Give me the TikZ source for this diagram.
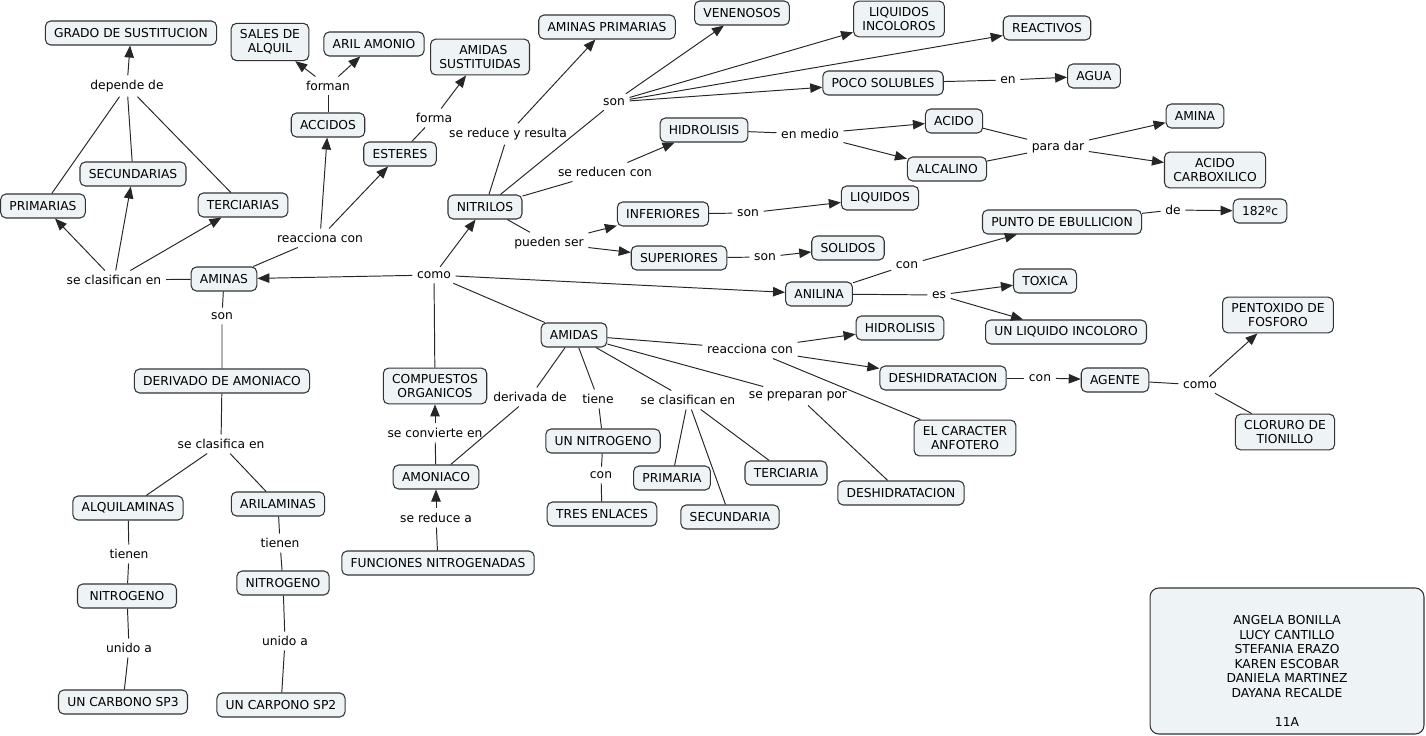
\documentclass[tikz,border=0pt]{standalone}
\usepackage{fontspec}
\setmainfont{DejaVu Sans}
\usetikzlibrary{arrows.meta}
\definecolor{boxfill}{HTML}{EEF3F6}

\begin{document}
\begin{tikzpicture}[x=0.02cm, y=-0.02cm,
    concept/.style={draw=black!80, fill=boxfill, rounded corners=3pt, line width=0.6pt,
        inner xsep=5pt, inner ysep=3.6pt, minimum height=0.48cm, align=center,
        font=\fontsize{7}{7.9}\selectfont},
    phrase/.style={inner sep=2.5pt, font=\fontsize{7}{7.9}\selectfont},
    conn/.style={line width=0.55pt, black!85},
    arr/.style={conn, -{Triangle[length=0.24cm, width=0.19cm]}}]
    \useasboundingbox (0,0) rectangle (1426,736);

    % Concepts
    \node[concept] (grado) at (131,33) {GRADO DE SUSTITUCION};
    \node[concept] (sales) at (270,42) {SALES DE\\ALQUIL};
    \node[concept] (aril) at (374,44) {ARIL AMONIO};
    \node[concept] (amsust) at (480,57) {\hspace{1ex}AMIDAS\\SUSTITUIDAS};
    \node[concept] (accidos) at (328,125) {ACCIDOS};
    \node[concept] (esteres) at (400,154) {ESTERES};
    \node[concept] (secund) at (133,174) {SECUNDARIAS};
    \node[concept] (prim) at (43,206) {PRIMARIAS};
    \node[concept] (terc) at (243,205) {TERCIARIAS};
    \node[concept] (aminas) at (224,279) {AMINAS};
    \node[concept] (nitrilos) at (485,207) {NITRILOS};
    \node[concept] (amprim) at (607,27) {AMINAS PRIMARIAS};
    \node[concept] (venen) at (742,13) {VENENOSOS};
    \node[concept] (liqinc) at (899,19) {LIQUIDOS\\INCOLOROS};
    \node[concept] (react) at (1047,28) {REACTIVOS};
    \node[concept] (poco) at (883,83) {POCO SOLUBLES};
    \node[concept] (agua) at (1094,76) {AGUA};
    \node[concept] (hidro) at (704,130) {HIDROLISIS};
    \node[concept] (acido) at (954,121) {ACIDO};
    \node[concept] (alcal) at (947,169) {ALCALINO};
    \node[concept] (amina) at (1195,116) {AMINA};
    \node[concept] (acarb) at (1215,170) {ACIDO\\CARBOXILICO};
    \node[concept] (liquidos) at (880,198) {LIQUIDOS};
    \node[concept] (infer) at (663,214) {INFERIORES};
    \node[concept] (super) at (679,258) {SUPERIORES};
    \node[concept] (solidos) at (848,248) {SOLIDOS};
    \node[concept] (punto) at (1062,222) {PUNTO DE EBULLICION};
    \node[concept] (grados) at (1260,211) {182ºc};
    \node[concept] (anilina) at (819,294) {ANILINA};
    \node[concept] (toxica) at (1045,281) {TOXICA};
    \node[concept] (liqinc2) at (1066,332) {UN LIQUIDO INCOLORO};
    \node[concept] (hidro2) at (900,328) {HIDROLISIS};
    \node[concept] (deshid) at (943,378) {DESHIDRATACION};
    \node[concept] (agente) at (1115,380) {AGENTE};
    \node[concept] (pento) at (1278,315) {PENTOXIDO DE\\FOSFORO};
    \node[concept] (cloruro) at (1285,432) {CLORURO DE\\TIONILLO};
    \node[concept] (anfot) at (965,438) {EL CARACTER\\ANFOTERO};
    \node[concept] (amidas) at (574,335) {AMIDAS};
    \node[concept] (unnit) at (603,441) {UN NITROGENO};
    \node[concept] (tres) at (602,514) {TRES ENLACES};
    \node[concept] (primA) at (672,478) {PRIMARIA};
    \node[concept] (secA) at (730,517) {SECUNDARIA};
    \node[concept] (tercA) at (786,473) {TERCIARIA};
    \node[concept] (deshid2) at (901,493) {DESHIDRATACION};
    \node[concept] (compu) at (435,386) {COMPUESTOS\\ORGANICOS};
    \node[concept] (amon) at (436,477) {AMONIACO};
    \node[concept] (func) at (438,563) {FUNCIONES NITROGENADAS};
    \node[concept] (deriv) at (222,381) {DERIVADO DE AMONIACO};
    \node[concept] (alqui) at (128,508) {ALQUILAMINAS};
    \node[concept] (arila) at (278,504) {ARILAMINAS};
    \node[concept, minimum width=1.98cm] (nitro1) at (127,596) {NITROGENO};
    \node[concept] (nitro2) at (283,583) {NITROGENO};
    \node[concept] (sp3) at (123,702) {UN CARBONO SP3};
    \node[concept] (sp2) at (281,705) {UN CARPONO SP2};

    % Linking phrases
    \node[phrase] (ldep) at (127,86) {depende de};
    \node[phrase] (lform) at (328,86) {forman};
    \node[phrase] (lforma) at (434,118) {forma};
    \node[phrase] (lreduce) at (508,134) {se reduce y resulta};
    \node[phrase] (lson) at (614,102) {son};
    \node[phrase] (lredcon) at (605,172) {se reducen con};
    \node[phrase] (lmedio) at (810,134) {en medio};
    \node[phrase] (len) at (1008,80) {en};
    \node[phrase] (lpara) at (1058,147) {para dar};
    \node[phrase] (lsonI) at (748,213) {son};
    \node[phrase] (lpueden) at (549,243) {pueden ser};
    \node[phrase] (lsonS) at (765,257) {son};
    \node[phrase] (lde) at (1173,210) {de};
    \node[phrase] (lcon) at (907,265) {con};
    \node[phrase] (les) at (939,295) {es};
    \node[phrase] (lcomo) at (434,275) {como};
    \node[phrase] (lreacc) at (320,238) {reacciona con};
    \node[phrase] (lclas) at (114,280) {se clasifican en};
    \node[phrase] (lsonA) at (222,316) {son};
    \node[phrase] (lclasD) at (221,444) {se clasifica en};
    \node[phrase] (ltien1) at (129,554) {tienen};
    \node[phrase] (ltien2) at (280,543) {tienen};
    \node[phrase] (lunido1) at (129,648) {unido a};
    \node[phrase] (lunido2) at (285,641) {unido a};
    \node[phrase] (lconv) at (435,433) {se convierte en};
    \node[phrase] (lreda) at (436,518) {se reduce a};
    \node[phrase] (lderiv) at (530,397) {derivada de};
    \node[phrase] (ltiene) at (598,399) {tiene};
    \node[phrase] (lconN) at (601,475) {con};
    \node[phrase] (lclasA) at (688,400) {se clasifican en};
    \node[phrase] (lprep) at (798,396) {se preparan por};
    \node[phrase] (lreaccA) at (750,349) {reacciona con};
    \node[phrase] (lconD) at (1040,378) {con};
    \node[phrase] (lcomoA) at (1200,385) {como};

    % Team box
    \node[concept, minimum width=5.48cm, minimum height=2.92cm, rounded corners=5pt] (equipo) at (1287,661) {};
    \node[align=center, font=\fontsize{7}{8.3}\selectfont] (nombres) at (1287,671)
        {ANGELA BONILLA\\LUCY CANTILLO\\STEFANIA ERAZO\\KAREN ESCOBAR\\DANIELA MARTINEZ\\DAYANA RECALDE\\[8.3pt]11A};

    % Aminas
    \draw[conn] (aminas) -- (lclas);
    \foreach \t in {prim,secund,terc} \draw[arr] (lclas) -- (\t);
    \foreach \t in {prim,secund,terc} \draw[conn] (\t) -- (ldep);
    \draw[arr] (ldep) -- (grado);
    \draw[conn] (aminas) -- (lreacc);
    \draw[arr] (lreacc) -- (accidos);
    \draw[arr] (lreacc) -- (esteres);
    \draw[conn] (accidos) -- (lform);
    \draw[arr] (lform) -- (sales);
    \draw[arr] (lform) -- (aril);
    \draw[conn] (esteres) -- (lforma);
    \draw[arr] (lforma) -- (amsust);
    \draw[conn] (aminas) -- (lsonA) -- (deriv);
    \draw[conn] (deriv) -- (lclasD);
    \draw[conn] (lclasD) -- (alqui);
    \draw[conn] (lclasD) -- (arila);
    \draw[conn] (alqui) -- (ltien1) -- (nitro1) -- (lunido1) -- (sp3);
    \draw[conn] (arila) -- (ltien2) -- (nitro2) -- (lunido2) -- (sp2);

    % Compuestos organicos
    \draw[conn] (compu) -- (lcomo);
    \draw[arr] (lcomo) -- (aminas);
    \draw[arr] (lcomo) -- (nitrilos);
    \draw[arr] (lcomo) -- (anilina);
    \draw[conn] (lcomo) -- (amidas);
    \draw[conn] (amon) -- (lconv);
    \draw[arr] (lconv) -- (compu);
    \draw[conn] (func) -- (lreda);
    \draw[arr] (lreda) -- (amon);

    % Nitrilos
    \draw[conn] (nitrilos) -- (lreduce);
    \draw[arr] (lreduce) -- (amprim);
    \draw[conn] (nitrilos) -- (lson);
    \foreach \t in {venen,liqinc,react,poco} \draw[arr] (lson) -- (\t);
    \draw[conn] (poco) -- (len);
    \draw[arr] (len) -- (agua);
    \draw[conn] (nitrilos) -- (lredcon);
    \draw[arr] (lredcon) -- (hidro);
    \draw[conn] (hidro) -- (lmedio);
    \draw[arr] (lmedio) -- (acido);
    \draw[arr] (lmedio) -- (alcal);
    \draw[conn] (acido) -- (lpara);
    \draw[conn] (alcal) -- (lpara);
    \draw[arr] (lpara) -- (amina);
    \draw[arr] (lpara) -- (acarb);
    \draw[conn] (nitrilos) -- (lpueden);
    \draw[arr] (lpueden) -- (infer);
    \draw[arr] (lpueden) -- (super);
    \draw[conn] (infer) -- (lsonI);
    \draw[arr] (lsonI) -- (liquidos);
    \draw[conn] (super) -- (lsonS);
    \draw[arr] (lsonS) -- (solidos);

    % Anilina
    \draw[conn] (anilina) -- (lcon);
    \draw[arr] (lcon) -- (punto);
    \draw[conn] (punto) -- (lde);
    \draw[arr] (lde) -- (grados);
    \draw[conn] (anilina) -- (les);
    \draw[arr] (les) -- (toxica);
    \draw[arr] (les) -- (liqinc2);

    % Amidas
    \draw[conn] (amidas) -- (lreaccA);
    \draw[arr] (lreaccA) -- (hidro2);
    \draw[arr] (lreaccA) -- (deshid);
    \draw[conn] (lreaccA) -- (anfot);
    \draw[conn] (deshid) -- (lconD);
    \draw[arr] (lconD) -- (agente);
    \draw[conn] (agente) -- (lcomoA);
    \draw[arr] (lcomoA) -- (pento);
    \draw[conn] (lcomoA) -- (cloruro);
    \draw[conn] (amidas) -- (lprep) -- (deshid2);
    \draw[conn] (amidas) -- (lclasA);
    \foreach \t in {primA,secA,tercA} \draw[conn] (lclasA) -- (\t);
    \draw[conn] (amidas) -- (ltiene) -- (unnit) -- (lconN) -- (tres);
    \draw[conn] (amidas) -- (lderiv) -- (amon);
\end{tikzpicture}
\end{document}
